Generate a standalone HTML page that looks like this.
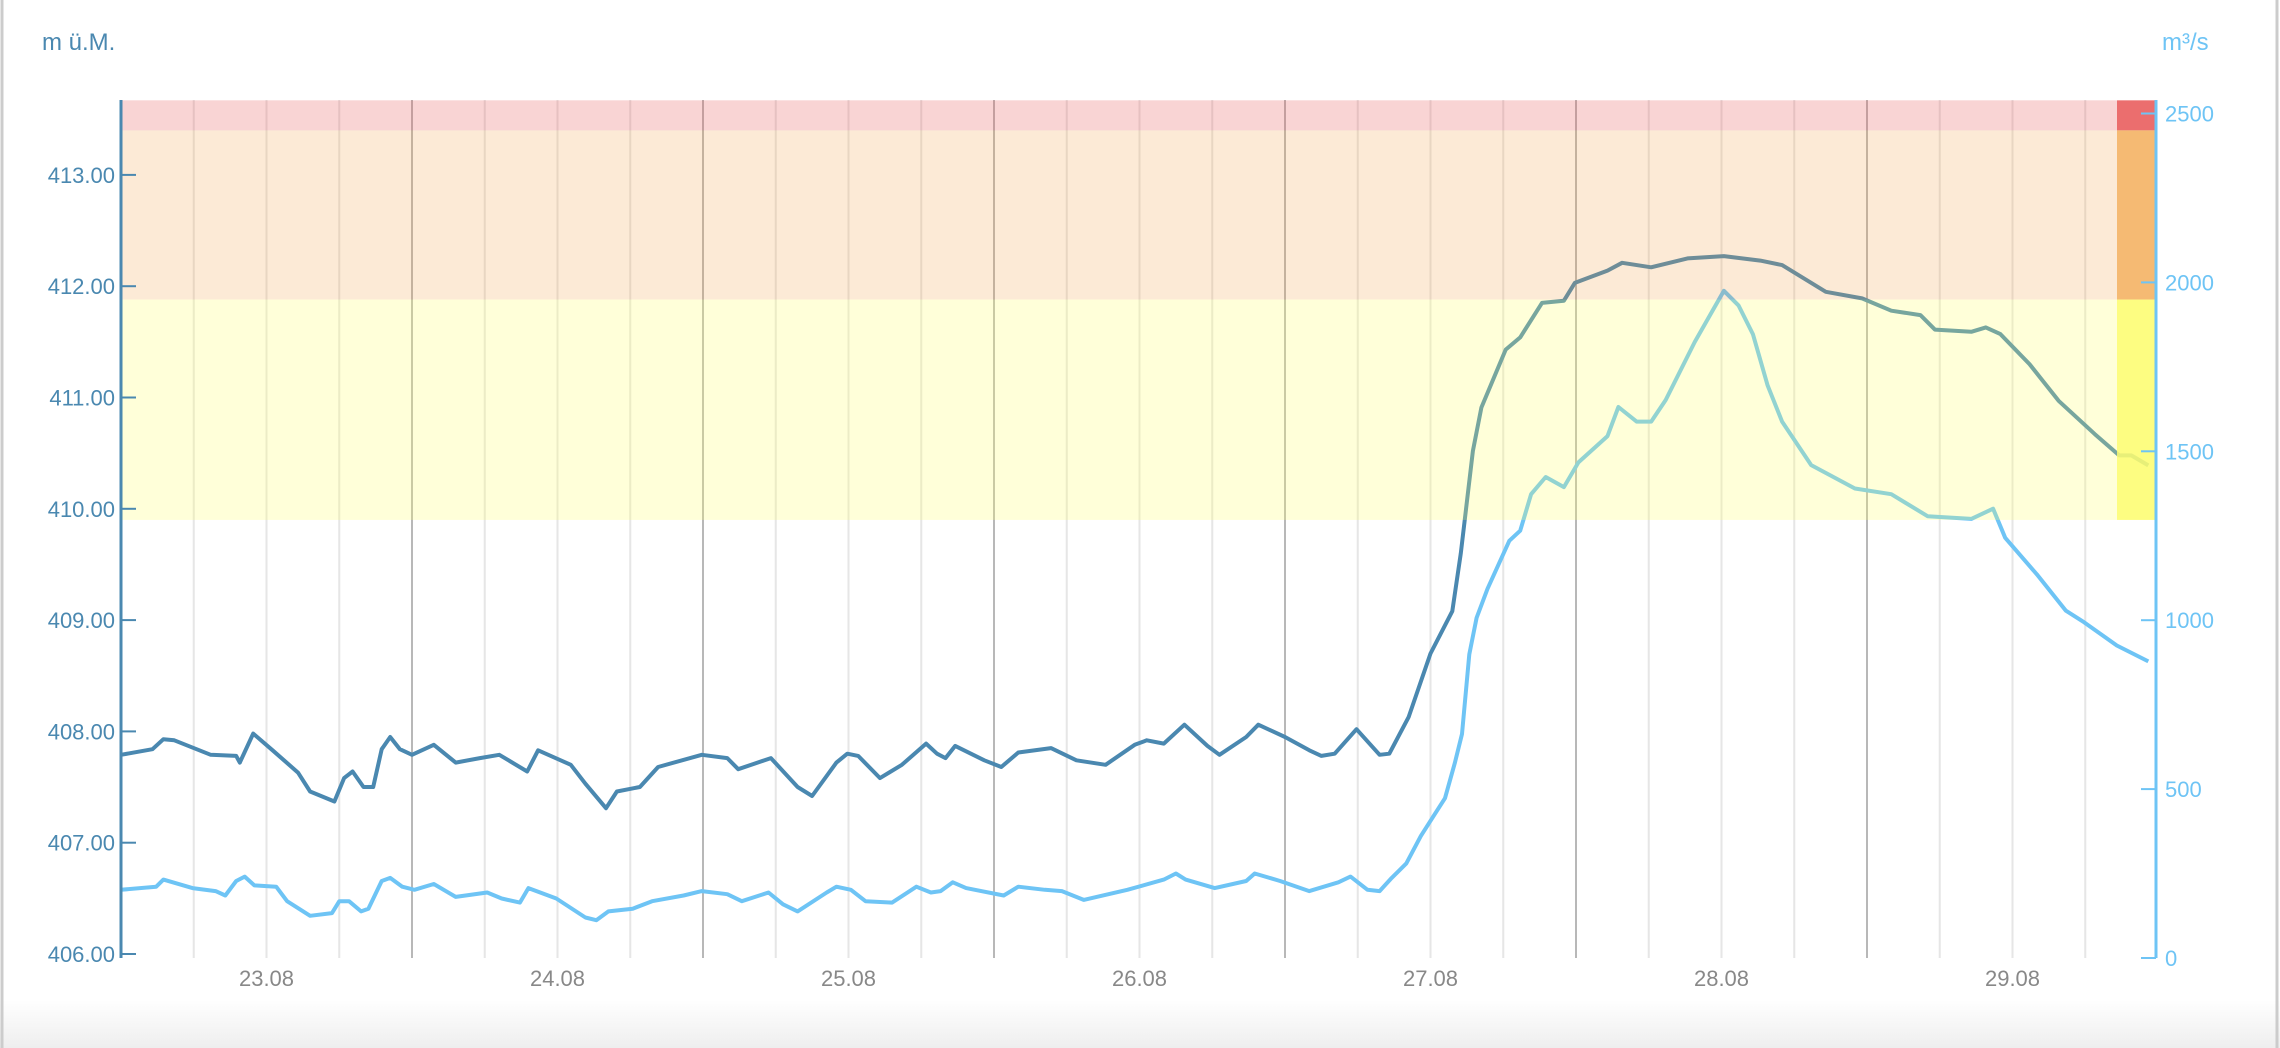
<!DOCTYPE html>
<html><head><meta charset="utf-8"><style>
html,body{margin:0;padding:0;background:#fff;}
#wrap{position:relative;width:2280px;height:1048px;overflow:hidden;background:linear-gradient(#fff 0,#fff 1000px,#eee 1048px);font-family:"Liberation Sans",sans-serif;}
</style></head><body>
<div id="wrap">
<svg id="chart" width="2280" height="1048" style="position:absolute;left:0;top:0">
<line x1="2" y1="0" x2="2" y2="1048" stroke="#ccc" stroke-width="3"/>
<line x1="2277" y1="0" x2="2277" y2="1048" stroke="#ccc" stroke-width="3"/>
<text x="42" y="50" font-size="24" fill="#4a88b0">m ü.M.</text>
<text x="2162" y="50" font-size="24" fill="#6ec4f5">m³/s</text>
<g id="grid"></g>
<g id="lines"></g>
<g id="bands"></g>
<g id="axes"></g>
</svg>
</div>
<script>
const hours=[0,2.6,3.5,4.4,7.4,9.5,9.8,10.9,12.5,14.6,15.6,17.6,18.4,19.1,20.0,20.8,21.5,22.2,23.0,24.0,25.8,27.6,29.6,31.2,33.5,34.4,37.1,38.3,40.0,40.9,42.8,44.3,47.9,50.0,50.9,53.6,55.8,57.0,59.0,59.9,60.8,62.6,64.4,66.4,67.3,68.0,68.8,71.2,72.6,74.0,76.7,78.8,81.2,83.6,84.6,86.0,87.7,89.6,90.6,92.8,93.8,96.0,98.0,99.0,100.1,101.9,103.8,104.6,106.2,108.0,109.8,110.5,111.5,112.2,114.2,115.4,117.2,119.0,119.9,122.6,123.8,126.2,129.2,132.2,135.2,137.0,140.6,143.6,146.0,148.4,149.6,152.6,153.8,155.0,157.4,159.8,162.8,164.8,165.8,167.2];
const level=[407.79,407.84,407.93,407.92,407.79,407.78,407.72,407.98,407.83,407.63,407.46,407.37,407.58,407.64,407.50,407.50,407.84,407.95,407.84,407.79,407.88,407.72,407.76,407.79,407.64,407.83,407.70,407.53,407.31,407.46,407.50,407.68,407.79,407.76,407.66,407.76,407.50,407.42,407.72,407.80,407.78,407.58,407.70,407.89,407.80,407.76,407.87,407.74,407.68,407.81,407.85,407.74,407.70,407.88,407.92,407.89,408.06,407.87,407.79,407.95,408.06,407.95,407.83,407.78,407.80,408.02,407.79,407.80,408.13,408.70,409.08,409.60,410.52,410.91,411.43,411.54,411.85,411.87,412.03,412.14,412.21,412.17,412.25,412.27,412.23,412.19,411.95,411.89,411.78,411.74,411.61,411.59,411.63,411.57,411.30,410.97,410.67,410.48,410.48,410.39];
const qHours=[0,2.9,3.5,5.9,7.8,8.6,9.5,10.2,11.0,12.8,13.7,15.6,17.4,18.0,18.8,19.8,20.4,21.5,22.2,23.2,24.2,25.8,27.6,30.2,31.4,32.9,33.6,35.9,38.3,39.2,40.2,42.2,43.8,46.4,47.9,50.0,51.2,53.4,54.6,55.8,58.2,59.0,60.2,61.4,63.6,65.6,66.8,67.6,68.6,69.7,72.8,74.0,76.2,77.6,79.4,83.0,86.0,87.0,87.8,90.2,92.8,93.5,95.6,98.0,100.4,101.4,102.8,103.8,104.8,106.0,107.2,108.2,109.2,110.0,110.6,111.2,111.8,112.7,114.5,115.4,116.3,117.5,119.0,120.2,122.6,123.5,125.0,126.2,127.4,129.8,132.2,133.4,134.6,135.8,137.0,139.4,143.0,146.0,149.0,152.6,154.4,155.4,158.0,160.4,161.9,164.6,167.2];
const discharge=[202,211,232,207,198,185,228,241,215,211,168,125,133,168,168,138,146,228,237,211,202,219,181,194,176,164,207,176,120,112,138,146,168,185,198,189,168,194,159,138,194,211,202,168,164,211,194,198,224,207,185,211,202,198,172,202,232,250,232,207,228,250,228,198,224,241,202,198,237,280,361,417,473,577,663,899,1007,1093,1235,1265,1373,1424,1394,1467,1545,1631,1588,1588,1652,1824,1975,1932,1846,1695,1588,1459,1390,1373,1308,1300,1330,1244,1136,1028,994,925,878];
const leftTicks=[406,407,408,409,410,411,412,413];
const rightTicks=[0,500,1000,1500,2000,2500];
const dayLabels=["23.08","24.08","25.08","26.08","27.08","28.08","29.08"];
const thresholds=[413.67,413.40,411.88,409.90];

const NS="http://www.w3.org/2000/svg";
const X0=121,X1=2156,PXH=12.125,YTOP=100,YBOT=958;
const xs=h=>X0+h*PXH;
const yL=v=>954-(v-406)*111.3;
const yR=q=>958-q*0.3378;
function mk(tag,attrs,parent){const e=document.createElementNS(NS,tag);for(const k in attrs)e.setAttribute(k,attrs[k]);parent.appendChild(e);return e;}
const grid=document.getElementById('grid'),lines=document.getElementById('lines'),bands=document.getElementById('bands'),axes=document.getElementById('axes');
for(let h=6;xs(h)<2117;h+=6){
  const dark=(h%24===0);
  const l=mk('line',{x1:xs(h),x2:xs(h),y1:YTOP,y2:YBOT,stroke:dark?'#b8b8b8':'#e6e6e6','stroke-width':2},grid);
  
  
}
function path(hs,vs,yf){return hs.map((h,i)=>(i?'L':'M')+xs(h).toFixed(1)+' '+yf(vs[i]).toFixed(1)).join(' ');}
const pq=mk('path',{d:path(qHours,discharge,yR),fill:'none',stroke:'#6ec4f5','stroke-width':4,'stroke-linejoin':'round'},lines);


const pl=mk('path',{d:path(hours,level,yL),fill:'none',stroke:'#4a88b0','stroke-width':4,'stroke-linejoin':'round'},lines);


const bandFill=['rgba(232,90,90,0.26)','rgba(242,160,70,0.22)','rgba(255,255,102,0.25)'];
const stripFill=['#e85a5a','#f4b060','#fdfd70'];
const bandNames=['danger-band-red','warning-band-orange','warning-band-yellow'];
for(let i=0;i<3;i++){
  const y1=yL(thresholds[i]),y2=yL(thresholds[i+1]);
  const r=mk('rect',{x:X0,y:y1,width:2117-X0,height:y2-y1,fill:bandFill[i]},bands);
  
  
  const s=mk('rect',{x:2117,y:y1,width:X1-2117,height:y2-y1,fill:stripFill[i],opacity:0.88},bands);
  
  
}
const la=mk('line',{x1:X0,x2:X0,y1:YTOP,y2:YBOT,stroke:'#4a88b0','stroke-width':3},axes);


const ra=mk('line',{x1:X1,x2:X1,y1:YTOP,y2:YBOT,stroke:'#6ec4f5','stroke-width':3},axes);


leftTicks.forEach(v=>{
  const y=yL(v);
  const t=mk('line',{x1:X0,x2:X0+15,y1:y,y2:y,stroke:'#4a88b0','stroke-width':2},axes);
  
  
  const tx=mk('text',{x:X0-6,y:y+8,'text-anchor':'end','font-size':22,fill:'#4a88b0'},axes);
  tx.textContent=v.toFixed(2);
  
  
});
rightTicks.forEach(v=>{
  const y=yR(v);
  const t=mk('line',{x1:X1-15,x2:X1,y1:y,y2:y,stroke:'#6ec4f5','stroke-width':2},axes);
  
  
  const tx=mk('text',{x:X1+9,y:y+8,'font-size':22,fill:'#6ec4f5'},axes);
  tx.textContent=String(v);
  
  
});
dayLabels.forEach((d,i)=>{
  const tx=mk('text',{x:xs(12+24*i),y:986,'text-anchor':'middle','font-size':22,fill:'#888'},axes);
  tx.textContent=d;
  
  
});
</script>
</body></html>
